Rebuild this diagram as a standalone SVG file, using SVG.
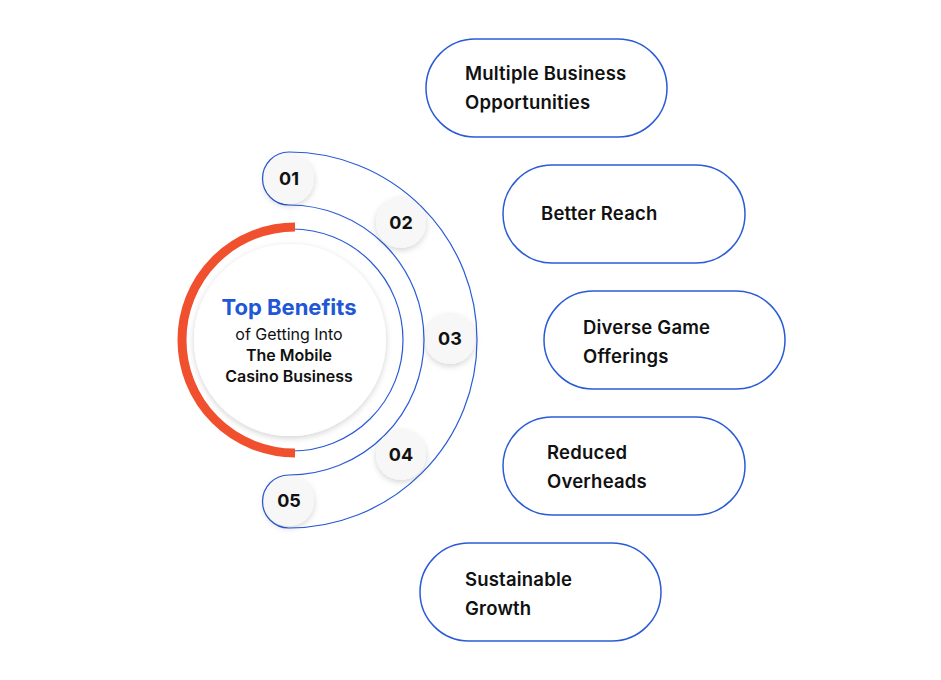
<svg xmlns="http://www.w3.org/2000/svg" width="941" height="680" viewBox="0 0 941 680">
<defs>
<filter id="sh" x="-30%" y="-30%" width="160%" height="160%"><feDropShadow dx="0" dy="2" stdDeviation="3" flood-color="#000" flood-opacity="0.18"/></filter>
<style>
.pill{fill:#fff;stroke:#2a5bd7;stroke-width:1.5}
.pt{font-family:Inter,"Noto Sans",sans-serif;font-weight:600;font-size:18.5px;fill:#111;letter-spacing:0.2px}
.num{fill:#f7f7f7;filter:url(#sh)}
.nt{font-family:Inter,"Noto Sans",sans-serif;font-weight:700;font-size:18px;fill:#111;text-anchor:middle}
.ln{fill:none;stroke:#2a5bd7;stroke-width:1.2}
.ct{font-family:Inter,"Noto Sans",sans-serif;font-size:16px;fill:#111;text-anchor:middle}
</style>
</defs>
<rect width="941" height="680" fill="#fff"/>
<g id="connectors">
<path class="ln" d="M289 152 A188 188 0 0 1 289 528 A13.5 13.5 0 0 1 289 475 A135 135 0 0 0 289 205 A26.5 26.5 0 0 1 289 152 Z"/>
<path class="ln" d="M292 229 A111 111 0 0 1 292 451"/>
<path d="M295 227 A113 113 0 0 0 295 453" fill="none" stroke="#f0502e" stroke-width="9"/>
</g>
<g id="center">
<circle cx="290" cy="340" r="96" fill="#fff" filter="url(#sh)"/>
<text x="289" y="315" class="ct" style="font-size:22px;font-weight:700;fill:#2157d6">Top Benefits</text>
<text x="289" y="340" class="ct">of Getting Into</text>
<text x="289" y="361" class="ct" style="font-weight:600">The Mobile</text>
<text x="289" y="382" class="ct" style="font-weight:600">Casino Business</text>
</g>
<g id="n01"><circle class="num" cx="289" cy="179" r="25"/><text class="nt" x="289" y="185">01</text></g>
<g id="n02"><circle class="num" cx="401" cy="223" r="25"/><text class="nt" x="401" y="229">02</text></g>
<g id="n03"><circle class="num" cx="450" cy="339" r="25"/><text class="nt" x="450" y="345">03</text></g>
<g id="n04"><circle class="num" cx="401" cy="455" r="25"/><text class="nt" x="401" y="461">04</text></g>
<g id="n05"><circle class="num" cx="289" cy="501" r="25"/><text class="nt" x="289" y="507">05</text></g>
<g id="p1"><rect class="pill" x="426" y="39" width="241" height="98" rx="49"/><text class="pt" x="465" y="80">Multiple Business</text><text class="pt" x="465" y="109">Opportunities</text></g>
<g id="p2"><rect class="pill" x="503" y="165" width="242" height="98" rx="49"/><text class="pt" x="541" y="220">Better Reach</text></g>
<g id="p3"><rect class="pill" x="544" y="291" width="241" height="98" rx="49"/><text class="pt" x="583" y="334">Diverse Game</text><text class="pt" x="583" y="363">Offerings</text></g>
<g id="p4"><rect class="pill" x="503" y="417" width="242" height="98" rx="49"/><text class="pt" x="547" y="459">Reduced</text><text class="pt" x="547" y="488">Overheads</text></g>
<g id="p5"><rect class="pill" x="420" y="543" width="241" height="98" rx="49"/><text class="pt" x="465" y="586">Sustainable</text><text class="pt" x="465" y="615">Growth</text></g>
</svg>
